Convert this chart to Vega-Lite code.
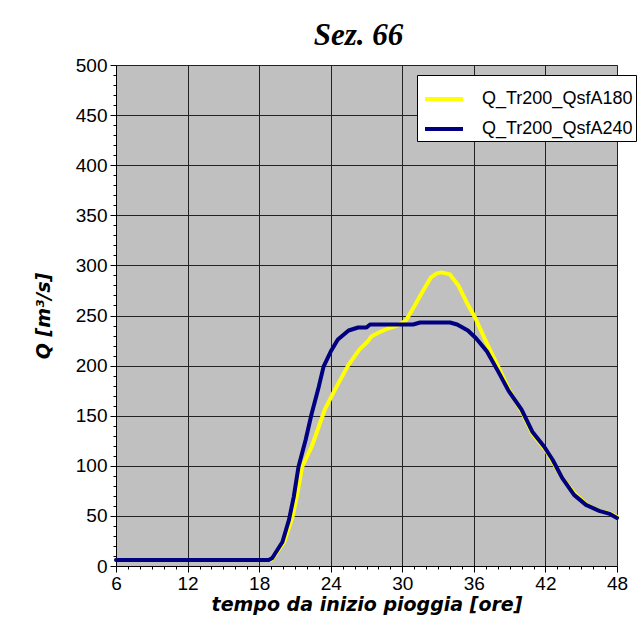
{
  "$schema": "https://vega.github.io/schema/vega-lite/v6.json",
  "autosize": {"type": "none"},
  "width": 501,
  "height": 501,
  "padding": {"left": 116, "top": 65, "right": 26, "bottom": 78},
  "background": "white",
  "title": {"text": "Sez. 66", "font": "Liberation Serif", "fontSize": 31, "fontWeight": "bold", "fontStyle": "italic", "color": "black", "offset": 4, "dx": -8},
  "config": {
    "view": {"fill": "#c0c0c0", "stroke": "#808080", "strokeWidth": 1},
    "axis": {"labelFont": "Liberation Sans", "labelFontSize": 19, "labelColor": "black", "titleFont": "DejaVu Sans", "titleFontSize": 19, "titleFontWeight": "bold", "titleFontStyle": "italic", "titleColor": "black", "domainColor": "black", "tickColor": "black", "gridWidth": 1}
  },
  "data": {"values": [
    {"t": 6, "Q": 6, "s": "Q_Tr200_QsfA180"},
    {"t": 19, "Q": 6, "s": "Q_Tr200_QsfA180"},
    {"t": 19.4, "Q": 12, "s": "Q_Tr200_QsfA180"},
    {"t": 20.1, "Q": 24, "s": "Q_Tr200_QsfA180"},
    {"t": 20.8, "Q": 49, "s": "Q_Tr200_QsfA180"},
    {"t": 21.2, "Q": 72, "s": "Q_Tr200_QsfA180"},
    {"t": 21.6, "Q": 99, "s": "Q_Tr200_QsfA180"},
    {"t": 22.4, "Q": 119, "s": "Q_Tr200_QsfA180"},
    {"t": 23, "Q": 139, "s": "Q_Tr200_QsfA180"},
    {"t": 23.5, "Q": 156, "s": "Q_Tr200_QsfA180"},
    {"t": 24.4, "Q": 177, "s": "Q_Tr200_QsfA180"},
    {"t": 25.5, "Q": 201, "s": "Q_Tr200_QsfA180"},
    {"t": 26.4, "Q": 216, "s": "Q_Tr200_QsfA180"},
    {"t": 27.1, "Q": 224, "s": "Q_Tr200_QsfA180"},
    {"t": 27.4, "Q": 229, "s": "Q_Tr200_QsfA180"},
    {"t": 28.2, "Q": 234, "s": "Q_Tr200_QsfA180"},
    {"t": 28.8, "Q": 237, "s": "Q_Tr200_QsfA180"},
    {"t": 29.6, "Q": 240, "s": "Q_Tr200_QsfA180"},
    {"t": 30.3, "Q": 245, "s": "Q_Tr200_QsfA180"},
    {"t": 31, "Q": 259, "s": "Q_Tr200_QsfA180"},
    {"t": 31.8, "Q": 276, "s": "Q_Tr200_QsfA180"},
    {"t": 32.4, "Q": 288, "s": "Q_Tr200_QsfA180"},
    {"t": 32.9, "Q": 292, "s": "Q_Tr200_QsfA180"},
    {"t": 33.3, "Q": 293, "s": "Q_Tr200_QsfA180"},
    {"t": 34, "Q": 291, "s": "Q_Tr200_QsfA180"},
    {"t": 34.7, "Q": 280, "s": "Q_Tr200_QsfA180"},
    {"t": 35.4, "Q": 263, "s": "Q_Tr200_QsfA180"},
    {"t": 36.1, "Q": 248, "s": "Q_Tr200_QsfA180"},
    {"t": 37.1, "Q": 222, "s": "Q_Tr200_QsfA180"},
    {"t": 38, "Q": 200, "s": "Q_Tr200_QsfA180"},
    {"t": 39, "Q": 175, "s": "Q_Tr200_QsfA180"},
    {"t": 40.1, "Q": 152, "s": "Q_Tr200_QsfA180"},
    {"t": 40.9, "Q": 132, "s": "Q_Tr200_QsfA180"},
    {"t": 42, "Q": 116, "s": "Q_Tr200_QsfA180"},
    {"t": 43.4, "Q": 88, "s": "Q_Tr200_QsfA180"},
    {"t": 44.4, "Q": 73, "s": "Q_Tr200_QsfA180"},
    {"t": 45.5, "Q": 61, "s": "Q_Tr200_QsfA180"},
    {"t": 46.5, "Q": 55, "s": "Q_Tr200_QsfA180"},
    {"t": 47.3, "Q": 53, "s": "Q_Tr200_QsfA180"},
    {"t": 48, "Q": 49, "s": "Q_Tr200_QsfA180"},
    {"t": 6, "Q": 6, "s": "Q_Tr200_QsfA240"},
    {"t": 18.8, "Q": 6, "s": "Q_Tr200_QsfA240"},
    {"t": 19.1, "Q": 8, "s": "Q_Tr200_QsfA240"},
    {"t": 19.95, "Q": 24, "s": "Q_Tr200_QsfA240"},
    {"t": 20.5, "Q": 46, "s": "Q_Tr200_QsfA240"},
    {"t": 20.9, "Q": 69, "s": "Q_Tr200_QsfA240"},
    {"t": 21.3, "Q": 99, "s": "Q_Tr200_QsfA240"},
    {"t": 21.9, "Q": 126, "s": "Q_Tr200_QsfA240"},
    {"t": 22.4, "Q": 152, "s": "Q_Tr200_QsfA240"},
    {"t": 23, "Q": 179, "s": "Q_Tr200_QsfA240"},
    {"t": 23.4, "Q": 199, "s": "Q_Tr200_QsfA240"},
    {"t": 24, "Q": 214, "s": "Q_Tr200_QsfA240"},
    {"t": 24.6, "Q": 226, "s": "Q_Tr200_QsfA240"},
    {"t": 25.5, "Q": 235, "s": "Q_Tr200_QsfA240"},
    {"t": 26.3, "Q": 238, "s": "Q_Tr200_QsfA240"},
    {"t": 27, "Q": 238, "s": "Q_Tr200_QsfA240"},
    {"t": 27.3, "Q": 241, "s": "Q_Tr200_QsfA240"},
    {"t": 30.9, "Q": 241, "s": "Q_Tr200_QsfA240"},
    {"t": 31.5, "Q": 243, "s": "Q_Tr200_QsfA240"},
    {"t": 34, "Q": 243, "s": "Q_Tr200_QsfA240"},
    {"t": 34.6, "Q": 241, "s": "Q_Tr200_QsfA240"},
    {"t": 35.5, "Q": 235, "s": "Q_Tr200_QsfA240"},
    {"t": 36.2, "Q": 227, "s": "Q_Tr200_QsfA240"},
    {"t": 37.1, "Q": 214, "s": "Q_Tr200_QsfA240"},
    {"t": 38, "Q": 195, "s": "Q_Tr200_QsfA240"},
    {"t": 38.9, "Q": 175, "s": "Q_Tr200_QsfA240"},
    {"t": 40, "Q": 156, "s": "Q_Tr200_QsfA240"},
    {"t": 40.9, "Q": 134, "s": "Q_Tr200_QsfA240"},
    {"t": 41.9, "Q": 119, "s": "Q_Tr200_QsfA240"},
    {"t": 42.6, "Q": 106, "s": "Q_Tr200_QsfA240"},
    {"t": 43.4, "Q": 88, "s": "Q_Tr200_QsfA240"},
    {"t": 44.4, "Q": 71, "s": "Q_Tr200_QsfA240"},
    {"t": 45.4, "Q": 61, "s": "Q_Tr200_QsfA240"},
    {"t": 46.5, "Q": 55, "s": "Q_Tr200_QsfA240"},
    {"t": 47.4, "Q": 52, "s": "Q_Tr200_QsfA240"},
    {"t": 48, "Q": 48, "s": "Q_Tr200_QsfA240"}
  ]},
  "mark": {"type": "line", "strokeWidth": 4, "strokeJoin": "round", "strokeCap": "round"},
  "encoding": {
    "x": {"field": "t", "type": "quantitative", "scale": {"domain": [6, 48], "nice": false, "zero": false},
      "axis": {"title": "tempo da inizio pioggia [ore]", "titlePadding": 2, "labelFlush": false,
        "values": [6,7,8,9,10,11,12,13,14,15,16,17,18,19,20,21,22,23,24,25,26,27,28,29,30,31,32,33,34,35,36,37,38,39,40,41,42,43,44,45,46,47,48],
        "labelExpr": "datum.value % 6 === 0 ? datum.label : ''",
        "tickSize": {"condition": {"test": "datum.value % 6 === 0", "value": 6}, "value": 3},
        "gridColor": {"condition": {"test": "datum.value % 6 === 0", "value": "#222222"}, "value": null},
        "labelPadding": 2}},
    "y": {"field": "Q", "type": "quantitative", "scale": {"domain": [0, 500], "nice": false},
      "axis": {"title": "Q [m³/s]", "titlePadding": 22,
        "values": [0,10,20,30,40,50,60,70,80,90,100,110,120,130,140,150,160,170,180,190,200,210,220,230,240,250,260,270,280,290,300,310,320,330,340,350,360,370,380,390,400,410,420,430,440,450,460,470,480,490,500],
        "labelExpr": "datum.value % 50 === 0 ? datum.label : ''",
        "tickSize": {"condition": {"test": "datum.value % 50 === 0", "value": 6}, "value": 3},
        "gridColor": {"condition": {"test": "datum.value % 50 === 0", "value": "#222222"}, "value": null},
        "labelPadding": 3}},
    "color": {"field": "s", "type": "nominal",
      "scale": {"domain": ["Q_Tr200_QsfA180", "Q_Tr200_QsfA240"], "range": ["#ffff00", "#000080"]},
      "legend": {"title": null, "orient": "none", "legendX": 301, "legendY": 10,
        "fillColor": "white", "strokeColor": "black", "padding": 3,
        "symbolType": "stroke", "symbolSize": 1444, "symbolStrokeWidth": 4, "symbolOffset": 3,
        "labelFont": "Liberation Sans", "labelFontSize": 18, "labelColor": "black",
        "rowPadding": -8, "labelOffset": 17}}
  }
}
